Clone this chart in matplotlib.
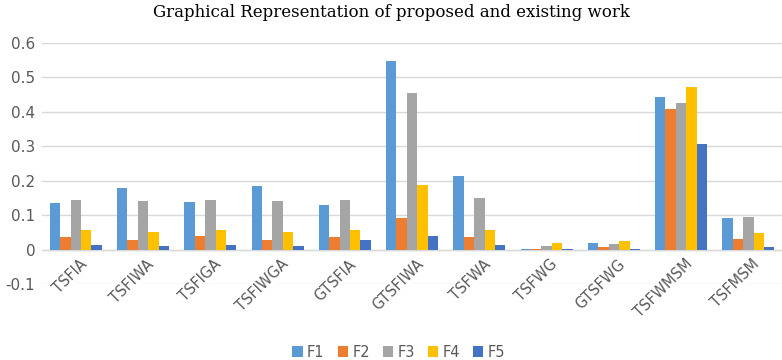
import matplotlib.pyplot as plt
import numpy as np

# Datos
categories = ['TSFIA', 'TSFIWA', 'TSFIGA', 'TSFIWGA', 'GTSFIA', 'GTSFIWA',
              'TSFWA', 'TSFWG', 'GTSFWG', 'TSFWMSM', 'TSFMSM']
f1 = [0.135, 0.180, 0.138, 0.184, 0.130, 0.548, 0.215, 0.003, 0.019, 0.443, 0.093]
f2 = [0.037, 0.029, 0.038, 0.029, 0.036, 0.091, 0.037, 0.001, 0.008, 0.408, 0.032]
f3 = [0.145, 0.141, 0.145, 0.141, 0.145, 0.454, 0.150, 0.011, 0.016, 0.424, 0.094]
f4 = [0.056, 0.052, 0.056, 0.052, 0.056, 0.186, 0.056, 0.019, 0.026, 0.471, 0.048]
f5 = [0.012, 0.010, 0.012, 0.010, 0.027, 0.039, 0.012, 0.002, 0.003, 0.306, 0.008]
series_names = ['F1', 'F2', 'F3', 'F4', 'F5']
series = [f1, f2, f3, f4, f5]
colors = ['#5B9BD5', '#ED7D31', '#A5A5A5', '#FFC000', '#4472C4']

fig = plt.figure(figsize=(7.82, 3.6), dpi=100)
ax = fig.add_axes([0.054, 0.211, 0.946, 0.670])

x = np.arange(len(categories))
width = 0.155
for k, (name, vals, c) in enumerate(zip(series_names, series, colors)):
    ax.bar(x + (k - 2) * width, vals, width, color=c, label=name, zorder=3)

ax.set_xlim(-0.5, len(categories) - 0.5)
ax.set_ylim(-0.1, 0.6)
ax.set_yticks(np.arange(-0.1, 0.61, 0.1))
ax.set_yticklabels(['-0.1', '0', '0.1', '0.2', '0.3', '0.4', '0.5', '0.6'])
ax.grid(axis='y', color='#D9D9D9', linewidth=1, zorder=0)
ax.axhline(0, color='#D9D9D9', linewidth=1, zorder=2)
for s in ax.spines.values():
    s.set_visible(False)
ax.tick_params(axis='y', length=0, labelsize=11, labelcolor='#595959', pad=5)
ax.tick_params(axis='x', length=0)
ax.set_xticks([])

# Etiquetas de categoría giradas con fondo blanco
for i, cat in enumerate(categories):
    ax.text(i + 0.05, -0.02, cat, rotation=45, rotation_mode='anchor',
            ha='right', va='top', fontsize=10.5, color='#595959',
            bbox=dict(facecolor='white', edgecolor='none', pad=1), zorder=4)

fig.text(0.5, 0.965, 'Graphical Representation of proposed and existing work',
         ha='center', va='center', fontsize=12, family='DejaVu Serif', color='black')

fig.legend(loc='center', bbox_to_anchor=(0.51, 0.022), ncol=5, frameon=False,
           fontsize=10.5, handlelength=0.7, handleheight=0.7, handletextpad=0.3,
           columnspacing=0.9, labelcolor='#595959')

fig.savefig('out.png', dpi=100)
